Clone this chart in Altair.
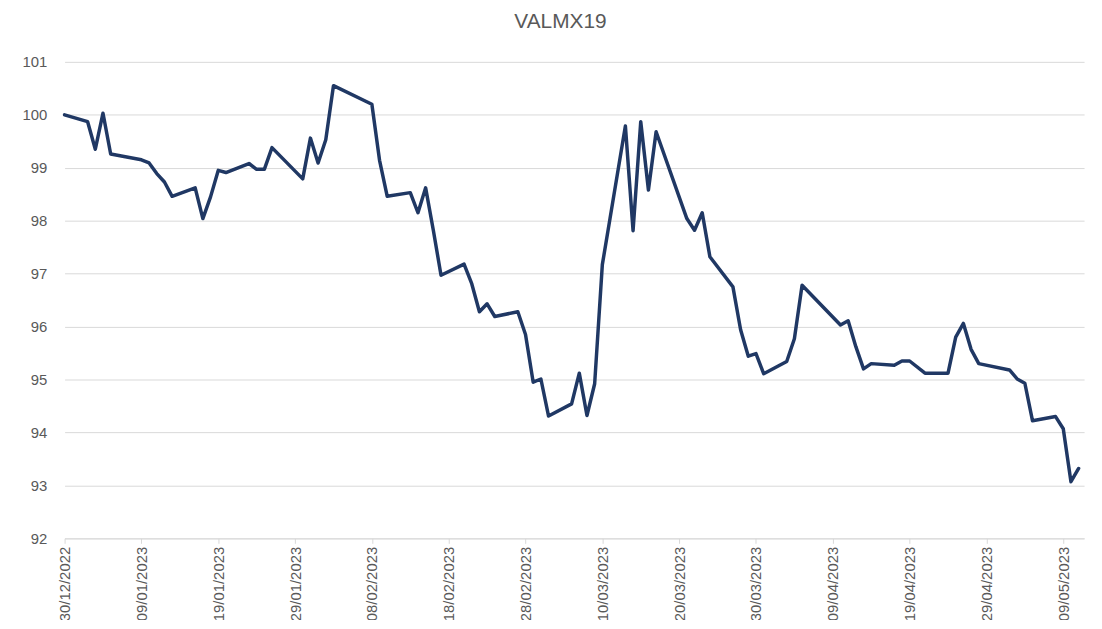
import altair as alt
import pandas as pd

dates = [
    "2022-12-30", "2023-01-02", "2023-01-03", "2023-01-04", "2023-01-05",
    "2023-01-09", "2023-01-10", "2023-01-11", "2023-01-12", "2023-01-13",
    "2023-01-16", "2023-01-17", "2023-01-18", "2023-01-19", "2023-01-20",
    "2023-01-23", "2023-01-24", "2023-01-25", "2023-01-26", "2023-01-30",
    "2023-01-31", "2023-02-01", "2023-02-02", "2023-02-03", "2023-02-08",
    "2023-02-09", "2023-02-10", "2023-02-13", "2023-02-14", "2023-02-15",
    "2023-02-16", "2023-02-17", "2023-02-20", "2023-02-21", "2023-02-22",
    "2023-02-23", "2023-02-24", "2023-02-27", "2023-02-28", "2023-03-01",
    "2023-03-02", "2023-03-03", "2023-03-06", "2023-03-07", "2023-03-08",
    "2023-03-09", "2023-03-10", "2023-03-11", "2023-03-13", "2023-03-14",
    "2023-03-15", "2023-03-16", "2023-03-17", "2023-03-21", "2023-03-22",
    "2023-03-23", "2023-03-24", "2023-03-27", "2023-03-28", "2023-03-29",
    "2023-03-30", "2023-03-31", "2023-04-03", "2023-04-04", "2023-04-05",
    "2023-04-10", "2023-04-11", "2023-04-12", "2023-04-13", "2023-04-14",
    "2023-04-17", "2023-04-18", "2023-04-19", "2023-04-21", "2023-04-24",
    "2023-04-25", "2023-04-26", "2023-04-27", "2023-04-28", "2023-05-02",
    "2023-05-03", "2023-05-04", "2023-05-05", "2023-05-08", "2023-05-09",
    "2023-05-10", "2023-05-11",
]

values = [
    100.00, 99.87, 99.35, 100.03, 99.26,
    99.15, 99.09, 98.89, 98.73, 98.46,
    98.62, 98.04, 98.45, 98.95, 98.91,
    99.08, 98.97, 98.97, 99.38, 98.79,
    99.56, 99.09, 99.53, 100.55, 100.20,
    99.14, 98.46, 98.53, 98.15, 98.62,
    97.82, 96.97, 97.18, 96.81, 96.28,
    96.43, 96.19, 96.28, 95.85, 94.95,
    95.01, 94.31, 94.54, 95.12, 94.32,
    94.92, 97.17, 98.04, 99.79, 97.81,
    99.87, 98.58, 99.68, 98.04, 97.82,
    98.15, 97.32, 96.75, 95.94, 95.44,
    95.49, 95.11, 95.34, 95.77, 96.78,
    96.03, 96.11, 95.62, 95.20, 95.30,
    95.27, 95.35, 95.35, 95.12, 95.12,
    95.80, 96.06, 95.57, 95.30, 95.18,
    95.01, 94.93, 94.22, 94.30, 94.07,
    93.07, 93.32,
]

x_tick_dates = [
    (2022, 12, 30), (2023, 1, 9), (2023, 1, 19), (2023, 1, 29), (2023, 2, 8),
    (2023, 2, 18), (2023, 2, 28), (2023, 3, 10), (2023, 3, 20), (2023, 3, 30),
    (2023, 4, 9), (2023, 4, 19), (2023, 4, 29), (2023, 5, 9),
]
y_ticks = [92, 93, 94, 95, 96, 97, 98, 99, 100, 101]

df = pd.DataFrame({"date": dates, "value": values})

GRAY = "#595959"
GRID = "#d9d9d9"
FONT = "Liberation Sans"

x_values = [alt.DateTime(year=y, month=m, date=d, utc=True) for (y, m, d) in x_tick_dates]

chart = alt.Chart(df).mark_line(
    color="#203864", strokeWidth=3.5, strokeJoin="round", strokeCap="round"
).encode(
    x=alt.X(
        "date:T",
        scale=alt.Scale(
            type="utc",
            domain=[
                alt.DateTime(year=2022, month=12, date=30, utc=True),
                alt.DateTime(year=2023, month=5, date=11, hours=17, utc=True),
            ],
        ),
        axis=alt.Axis(
            values=x_values,
            labelExpr="utcFormat(datum.value, '%d/%m/%Y')",
            labelAngle=270,
            grid=False,
            domainColor=GRID,
            tickColor=GRID,
            tickSize=5,
            labelPadding=3,
            labelColor=GRAY,
            labelFont=FONT,
            labelFontSize=15,
            title=None,
        ),
    ),
    y=alt.Y(
        "value:Q",
        scale=alt.Scale(domain=[92, 101], nice=False, zero=False),
        axis=alt.Axis(
            values=y_ticks,
            grid=True,
            gridColor=GRID,
            gridWidth=1,
            domain=False,
            ticks=False,
            labelPadding=18,
            labelColor=GRAY,
            labelFont=FONT,
            labelFontSize=15,
            title=None,
        ),
    ),
).properties(
    width=1027,
    height=480,
    title=alt.TitleParams(
        "VALMX19",
        fontSize=21,
        color=GRAY,
        font=FONT,
        fontWeight="normal",
        anchor="middle",
        frame="group",
        dx=-14,
        offset=23,
    ),
    autosize=alt.AutoSizeParams(type="none"),
    padding={"left": 57, "top": 52, "right": 10, "bottom": 80},
).configure_view(stroke=None)

chart.save("out.html", embed_options={"renderer": "svg", "actions": False})
